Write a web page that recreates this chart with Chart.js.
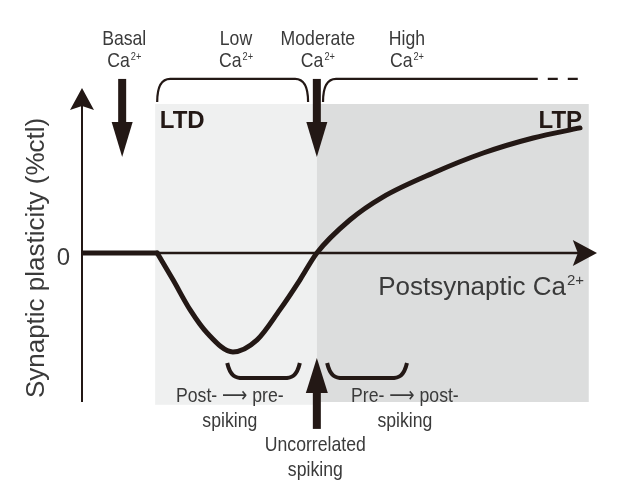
<!DOCTYPE html>
<html>
<head>
<meta charset="utf-8">
<script src="https://cdn.jsdelivr.net/npm/chart.js@4"></script>
<style>
  html, body { margin: 0; padding: 0; background: #fff; }
</style>
</head>
<body>
<canvas id="chart" width="628" height="502"></canvas>
<script>
// postsynaptic Ca2+ (a.u., 0-100) vs synaptic plasticity (% of control)
const basalCa = [0, 14.6];
const basalPlasticity = [0, 0];
const caLevel = [14.6, 17.7, 21.0, 24.3, 29.3, 34.0, 38.4, 42.3, 45.6, 52.0, 58.4, 68.2, 77.9, 87.6, 96.7];
const plasticity = [0, -16.4, -34.5, -48.5, -60, -52.7, -34.5, -16.4, 0, 20, 33.9, 48.5, 60.6, 69.7, 75.8];

// shaded Ca2+ ranges
const zoneNames = ['LTD', 'LTP'];
const zoneStart = [14.2, 45.6];
const zoneEnd = [45.6, 98.4];
const zoneColors = ['#eff0f0', '#dcdddd'];

// Ca2+ levels marked above the plot
const levelNames = ['Basal', 'Low', 'Moderate', 'High'];
const levelCa = [8.2, 29.9, 45.8, 63.1];

// spiking patterns marked below the plot
const spikeNames = [['Post- \u27F6 pre-', 'spiking'], ['Uncorrelated', 'spiking'], ['Pre- \u27F6 post-', 'spiking']];
const spikeCa = [28.7, 45.3, 62.7];

const yTicks = [0];

const INK = '#231815';
const TXT = '#3a3a3a';
const REG = "'Liberation Sans', Arial, 'DejaVu Sans', sans-serif";
const SQ = 0.84; // horizontal squeeze for the condensed labels

function nText(ctx, s, x, y, size, align) {
  ctx.font = size + 'px ' + REG;
  const w = ctx.measureText(s).width * SQ;
  const x0 = align === 'center' ? x - w / 2 : align === 'right' ? x - w : x;
  ctx.save();
  ctx.translate(x0, y);
  ctx.scale(SQ, 1);
  ctx.textAlign = 'left';
  ctx.fillText(s, 0, 0);
  ctx.restore();
  return w;
}

function vArrow(ctx, x, yStart, yBase, yTip, shaftW, headW) {
  ctx.fillStyle = INK;
  const top = Math.min(yStart, yBase), h = Math.abs(yBase - yStart);
  ctx.fillRect(x - shaftW / 2, top, shaftW, h + 1);
  ctx.beginPath();
  ctx.moveTo(x - headW / 2, yBase);
  ctx.lineTo(x + headW / 2, yBase);
  ctx.lineTo(x, yTip);
  ctx.closePath();
  ctx.fill();
}

function caText(ctx, x, y, size) {
  ctx.font = size + 'px ' + REG;
  const w1 = ctx.measureText('Ca').width * SQ;
  ctx.font = '11px ' + REG;
  const w2 = ctx.measureText('2+').width * SQ;
  const x0 = x - (w1 + w2 + 1) / 2;
  ctx.textBaseline = 'alphabetic';
  nText(ctx, 'Ca', x0, y, size, 'left');
  nText(ctx, '2+', x0 + w1 + 1, y - 7, 11, 'left');
}

const diagram = {
  id: 'diagram',
  beforeDatasetsDraw(chart) {
    const { ctx, scales: { x, y } } = chart;
    ctx.save();
    // LTD / LTP zones
    zoneNames.forEach((n, i) => {
      ctx.fillStyle = zoneColors[i];
      const l = x.getPixelForValue(zoneStart[i]), r = x.getPixelForValue(zoneEnd[i]);
      const t = y.getPixelForValue(90.3), b = y.getPixelForValue(i === 0 ? -92 : -90.3);
      ctx.fillRect(l, t, r - l, b - t);
    });
    // y axis with arrow
    const x0 = x.getPixelForValue(0);
    ctx.strokeStyle = INK;
    ctx.lineWidth = 2;
    ctx.beginPath();
    ctx.moveTo(x0, y.getPixelForValue(-90.3));
    ctx.lineTo(x0, y.getPixelForValue(90));
    ctx.stroke();
    ctx.fillStyle = INK;
    const yt = y.getPixelForValue(100), yb = y.getPixelForValue(86.7);
    ctx.beginPath();
    ctx.moveTo(x0, yt);
    ctx.lineTo(x0 + 12, yb);
    ctx.lineTo(x0, yb - 4);
    ctx.lineTo(x0 - 12, yb);
    ctx.closePath();
    ctx.fill();
    // x axis (zero line) with arrow
    const y0 = y.getPixelForValue(0);
    ctx.lineWidth = 2.5;
    ctx.beginPath();
    ctx.moveTo(x0, y0);
    ctx.lineTo(x.getPixelForValue(97), y0);
    ctx.stroke();
    const xt = x.getPixelForValue(100), xb = x.getPixelForValue(95.3);
    ctx.beginPath();
    ctx.moveTo(xt, y0);
    ctx.lineTo(xb, y0 - 13);
    ctx.lineTo(xb + 5, y0);
    ctx.lineTo(xb, y0 + 13);
    ctx.closePath();
    ctx.fill();
    ctx.restore();
  },
  afterDraw(chart) {
    const { ctx, scales: { x, y } } = chart;
    const X = v => x.getPixelForValue(v), Y = v => y.getPixelForValue(v);
    ctx.save();

    // top labels
    ctx.fillStyle = TXT;
    ctx.textBaseline = 'alphabetic';
    levelNames.forEach((n, i) => {
      nText(ctx, n, X(levelCa[i]), Y(126.1), 21, 'center');
      caText(ctx, X(levelCa[i]), Y(112.7), 21);
    });

    // top arrows (basal, moderate)
    [7.8, 45.6].forEach(c => vArrow(ctx, X(c), Y(105.5), Y(79.4), Y(58.2), 8, 21));

    // top brackets
    ctx.strokeStyle = INK;
    ctx.lineWidth = 2.2;
    const yf = Y(105.5), ye = Y(91.5);
    function topBracket(a, b, openRight) {
      const l = X(a), r = X(b), rad = 13;
      ctx.beginPath();
      ctx.moveTo(l, ye);
      ctx.bezierCurveTo(l, ye - 14, l + 4, yf, l + rad, yf);
      if (openRight) {
        ctx.lineTo(r, yf);
      } else {
        ctx.lineTo(r - rad, yf);
        ctx.bezierCurveTo(r - 4, yf, r, ye - 14, r, ye);
      }
      ctx.stroke();
    }
    topBracket(14.6, 43.9, false);
    topBracket(46.8, 88.5, true);
    ctx.setLineDash([10, 10]);
    ctx.lineDashOffset = 10;
    ctx.beginPath();
    ctx.moveTo(X(88.5), yf);
    ctx.lineTo(X(96.9), yf);
    ctx.stroke();
    ctx.setLineDash([]);

    // LTD / LTP labels
    ctx.fillStyle = INK;
    ctx.font = 'bold 24px ' + REG;
    ctx.textBaseline = 'alphabetic';
    ctx.textAlign = 'left';
    ctx.fillText(zoneNames[0], X(15.1), Y(75.8));
    ctx.textAlign = 'right';
    ctx.fillText(zoneNames[1], X(97.1), Y(75.8));

    // axis labels
    ctx.fillStyle = TXT;
    ctx.font = '24px ' + REG;
    ctx.textAlign = 'center';
    ctx.textBaseline = 'middle';
    yTicks.forEach(t => ctx.fillText(String(t), X(-3.6), Y(t - 3)));
    ctx.font = '26px ' + REG;
    ctx.save();
    ctx.translate(X(-8.7), Y(-3));
    ctx.rotate(-Math.PI / 2);
    ctx.fillText('Synaptic plasticity (%ctl)', 0, 0);
    ctx.restore();
    ctx.font = '26px ' + REG;
    ctx.textAlign = 'left';
    ctx.textBaseline = 'alphabetic';
    const lx = X(57.5), ly = Y(-25.5);
    ctx.fillText('Postsynaptic Ca', lx, ly);
    const w = ctx.measureText('Postsynaptic Ca').width;
    ctx.font = '15px ' + REG;
    ctx.fillText('2+', lx + w + 1, ly - 10);

    // bottom brackets
    ctx.strokeStyle = INK;
    ctx.lineWidth = 4;
    function botBracket(a, b) {
      const l = X(a), r = X(b), t = Y(-66.7), bt = Y(-75.8), rad = 16;
      ctx.beginPath();
      ctx.moveTo(l, t);
      ctx.bezierCurveTo(l + 3, bt - 2, l + 8, bt, l + rad, bt);
      ctx.lineTo(r - rad, bt);
      ctx.bezierCurveTo(r - 8, bt, r - 3, bt - 2, r, t);
      ctx.stroke();
    }
    botBracket(28.2, 42.3);
    botBracket(47.6, 63.1);

    // up arrow (uncorrelated spiking)
    vArrow(ctx, X(45.6), Y(-106), Y(-84.8), Y(-63.6), 8, 22);

    // bottom labels
    ctx.fillStyle = TXT;
    ctx.textBaseline = 'middle';
    const rows = [[-86.7, -101.8], [-116.4, -131.5], [-86.7, -101.8]];
    spikeNames.forEach((lines, i) => {
      lines.forEach((s, j) => nText(ctx, s, X(spikeCa[i]), Y(rows[i][j]), 21, 'center'));
    });
    ctx.restore();
  }
};

new Chart(document.getElementById('chart'), {
  type: 'line',
  data: {
    datasets: [
      {
        label: 'Basal',
        data: basalCa.map((c, i) => ({ x: c, y: basalPlasticity[i] }))
      },
      {
        label: 'Plasticity',
        data: caLevel.map((c, i) => ({ x: c, y: plasticity[i] })),
        cubicInterpolationMode: 'monotone'
      }
    ]
  },
  options: {
    responsive: false,
    animation: false,
    devicePixelRatio: 1,
    layout: { padding: { left: 82, right: 31, top: 88, bottom: 100.5 } },
    scales: {
      x: { type: 'linear', min: 0, max: 100, display: false },
      y: { min: -90, max: 100, display: false }
    },
    elements: {
      point: { radius: 0 },
      line: { borderWidth: 5, borderColor: INK, borderCapStyle: 'round', borderJoinStyle: 'round' }
    },
    plugins: { legend: { display: false }, tooltip: { enabled: false } }
  },
  plugins: [diagram]
});
</script>
</body>
</html>
